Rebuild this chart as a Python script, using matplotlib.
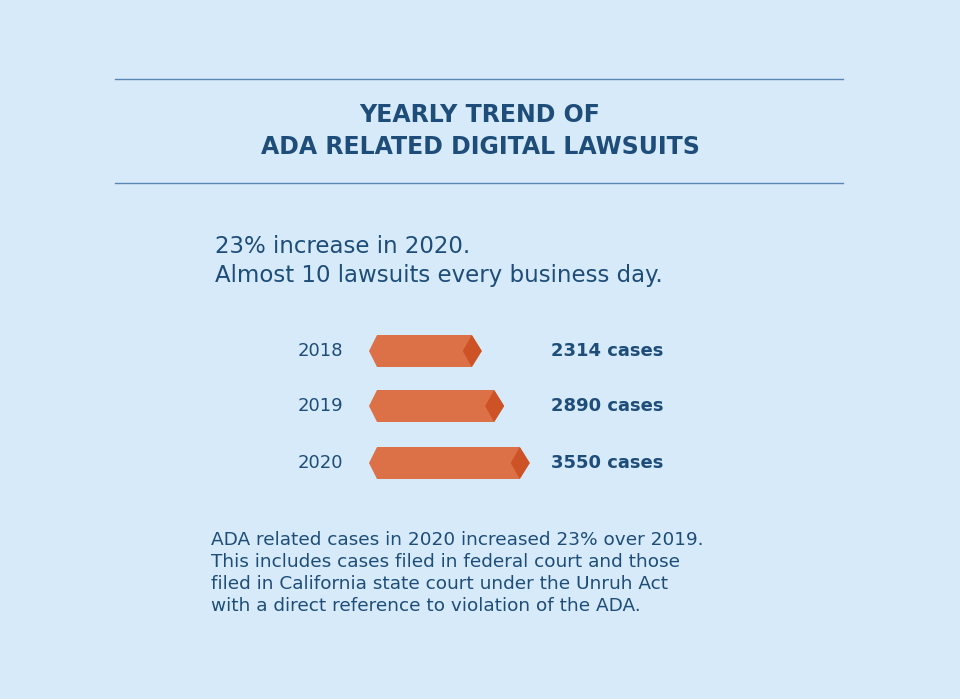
import matplotlib

matplotlib.use("Agg")
import matplotlib.pyplot as plt
from matplotlib.patches import Polygon

years = ["2018", "2019", "2020"]
cases = [2314, 2890, 3550]

BG = "#d7eaf9"
NAVY = "#1d4d78"
BAR = "#dc7148"
FACET = "#cd5225"
FONT = "DejaVu Sans"

fig = plt.figure(figsize=(9.6, 6.99), dpi=100, facecolor=BG)
ax = fig.add_axes([0, 0, 1, 1])
ax.set_xlim(0, 960)
ax.set_ylim(699, 0)
ax.axis("off")

for y in (79, 183):
    ax.plot([115, 843], [y, y], color="#5a88b5", lw=1)
ax.text(480, 131, "YEARLY TREND OF\nADA RELATED DIGITAL LAWSUITS", ha="center",
        va="center", fontsize=17, fontweight="bold", color=NAVY,
        family=FONT, linespacing=1.4)

ax.text(215, 261, "23% increase in 2020.\nAlmost 10 lawsuits every business day.",
        ha="left", va="center", fontsize=16.5, color=NAVY, family=FONT,
        linespacing=1.3)

x0, scale, pad, half = 369, 0.0388, 23, 16
rows = [351, 406, 463]
for year, n, yc in zip(years, cases, rows):
    xe = x0 + pad + n * scale
    ax.add_patch(Polygon([(x0, yc), (x0 + 8, yc - half), (xe - 10, yc - half),
                          (xe, yc), (xe - 10, yc + half), (x0 + 8, yc + half)],
                         closed=True, facecolor=BAR, edgecolor="none"))
    ax.add_patch(Polygon([(xe - 10, yc - half), (xe, yc), (xe - 10, yc + half),
                          (xe - 19, yc)], closed=True, facecolor=FACET, edgecolor="none"))
    ax.text(343, yc, year, ha="right", va="center", fontsize=13, color=NAVY,
            family=FONT)
    ax.text(551, yc, f"{n} cases", ha="left", va="center", fontsize=13,
            fontweight="bold", color=NAVY, family=FONT)

note = ("ADA related cases in 2020 increased 23% over 2019.\n"
        "This includes cases filed in federal court and those\n"
        "filed in California state court under the Unruh Act\n"
        "with a direct reference to violation of the ADA.")
ax.text(211, 573, note, ha="left", va="center", fontsize=13.3, color=NAVY,
        family=FONT, linespacing=1.3)

fig.savefig("out.png", dpi=100, facecolor=BG)
